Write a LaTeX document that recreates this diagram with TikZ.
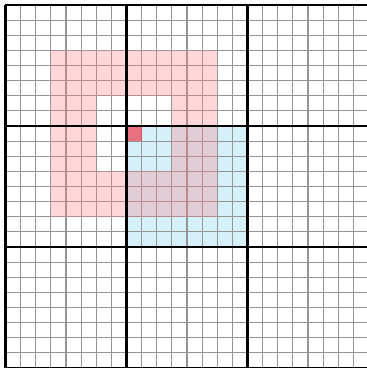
\documentclass[tikz,border=0pt]{standalone}
\definecolor{lightblue}{RGB}{214,240,250}
\definecolor{pinkfill}{RGB}{255,128,135}
\definecolor{redfill}{RGB}{240,60,75}
\begin{document}
\begin{tikzpicture}[x=1pt,y=-1pt,
  fineline/.style={draw=black!42,line width=1.1pt},
  thickline/.style={draw=black,line width=2.4pt},
  bluezone/.style={fill=lightblue},
  pinkzone/.style={fill=pinkfill,fill opacity=0.31},
  redcell/.style={fill=redfill,fill opacity=0.7}]
\useasboundingbox (0,0) rectangle (367,368);
\fill[white] (0,0) rectangle (367,368);
\clip (0,0) rectangle (367,368);
\begin{scope}[shift={(5.5,5)},x=15.125pt,y=-15.125pt]
  \fill[bluezone] (8,8) rectangle (16,16);
  \foreach \i in {0,...,24} {
    \draw[fineline] (\i,0) -- (\i,24);
    \draw[fineline] (0,\i) -- (24,\i);
  }
  \fill[pinkzone,even odd rule] (3,3) rectangle (14,14) (6,6) rectangle (11,11);
  \fill[redcell] (8,8) rectangle (9,9);
  \foreach \i in {0,8,16,24} {
    \draw[thickline] (\i,0) -- (\i,24);
    \draw[thickline] (0,\i) -- (24,\i);
  }
\end{scope}
\end{tikzpicture}
\end{document}
